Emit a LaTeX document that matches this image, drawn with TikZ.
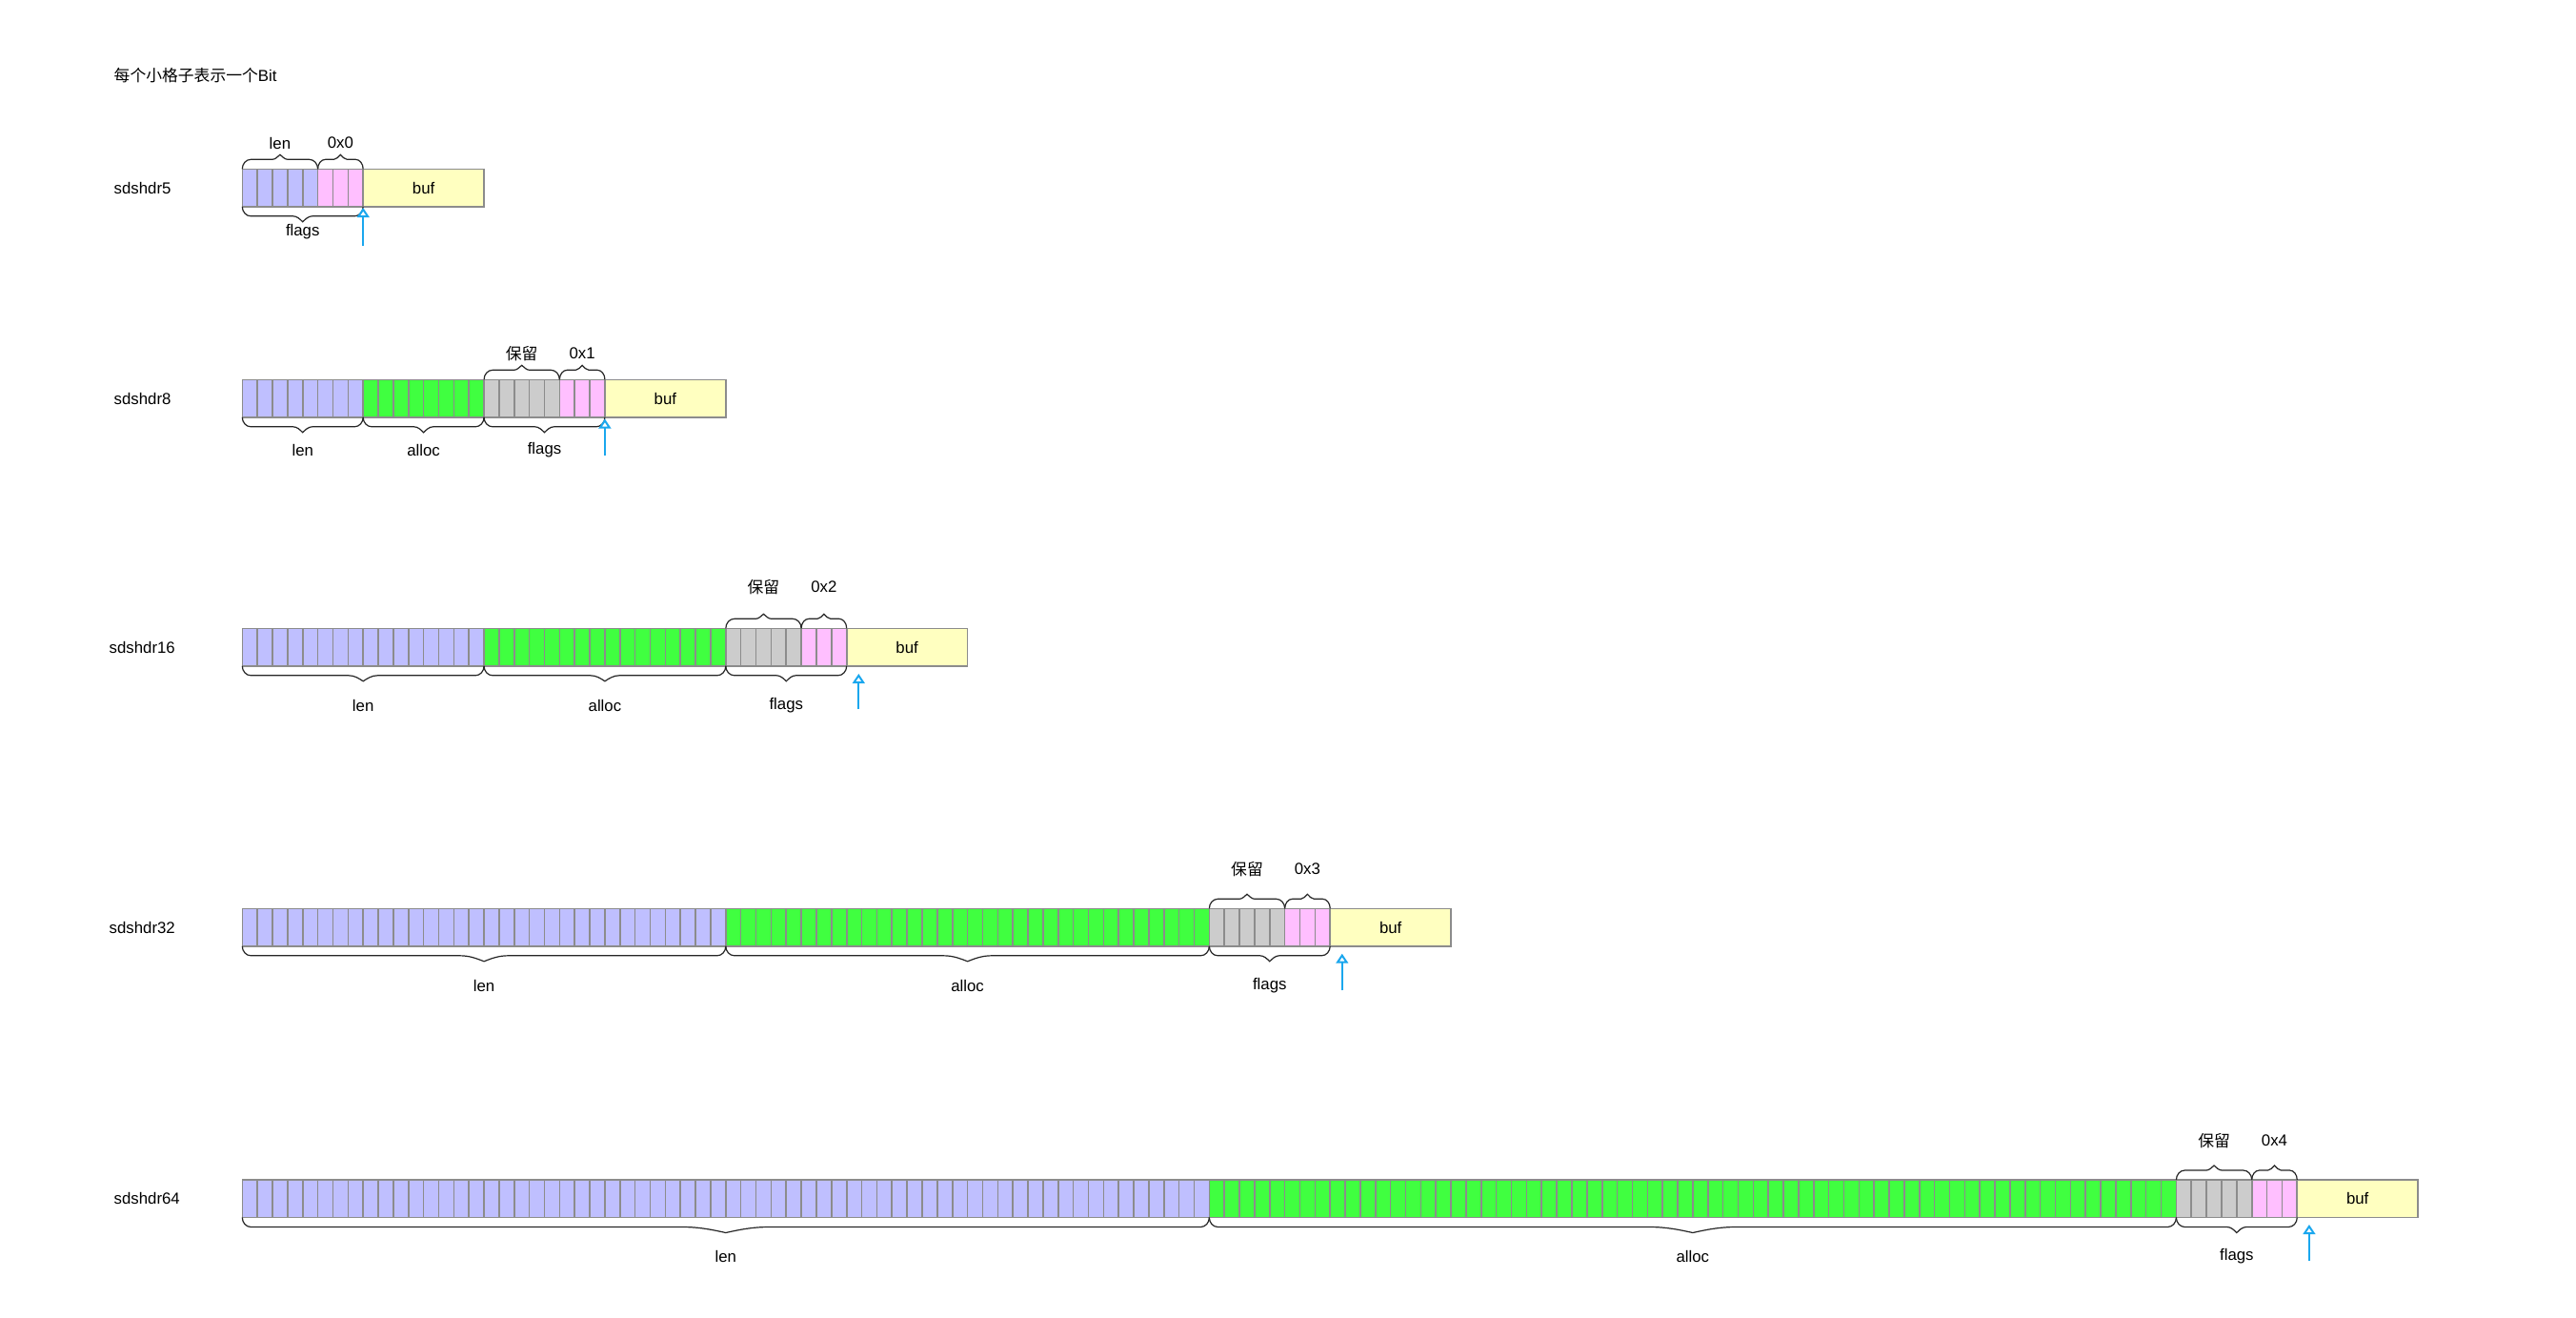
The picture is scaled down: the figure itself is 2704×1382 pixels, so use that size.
\documentclass[tikz,border=0pt]{standalone}
\usepackage{fontspec}
\setmainfont{Liberation Sans}
\newfontfamily\cjk{Noto Sans CJK SC}
\usetikzlibrary{arrows.meta}
\definecolor{cpur}{HTML}{BFBFFF}
\definecolor{cgrn}{HTML}{40FF40}
\definecolor{cgry}{HTML}{CCCCCC}
\definecolor{cpnk}{HTML}{FFBFFF}
\definecolor{cbuf}{HTML}{FFFFC0}
\definecolor{cedge}{HTML}{8C8C8C}
\definecolor{carr}{HTML}{1AA7EE}
\tikzset{
  cellst/.style={draw=cedge, line width=0.8pt},
  bracest/.style={draw=black!85, line width=0.6pt},
  lbl/.style={inner sep=0pt, font=\fontsize{8.4}{10}\selectfont},
  arr/.style={draw=carr, line width=1pt, -{Triangle[open, length=5pt, width=6.4pt]}},
}
% cells from index #1 to #2 (inclusive), top y #3, colour #4
\newcommand\cells[4]{%
  \foreach \i in {#1,...,#2}{%
    \draw[cellst, fill=#4] (\fpeval{254.3+\i*15.86},#3) rectangle (\fpeval{254.3+(\i+1)*15.86},#3+39.5);
  }}
% brace below, cells #1..#2 (boundaries), base y #3
\newcommand\bracedn[3]{%
  \pgfmathsetmacro\xa{254.3+#1*15.86}%
  \pgfmathsetmacro\xb{254.3+#2*15.86}%
  \pgfmathsetmacro\xm{(\xa+\xb)/2}%
  \pgfmathsetmacro\bt{0.04*(\xb-\xa)+5}%
  \pgfmathsetmacro\br{min(9,(\xb-\xa)/6)}%
  \pgfmathsetmacro\ya{#3}%
  \pgfmathsetmacro\yl{#3+10}%
  \pgfmathsetmacro\yt{#3+16}%
  \draw[bracest] (\xa,\ya) .. controls (\xa,\ya+5.5) and (\xa+0.45*\br,\yl) .. (\xa+\br,\yl)
    -- (\xm-\bt,\yl) .. controls (\xm-0.6*\bt,\yl) and (\xm-0.3*\bt,\yl+3) .. (\xm,\yt)
    .. controls (\xm+0.3*\bt,\yl+3) and (\xm+0.6*\bt,\yl) .. (\xm+\bt,\yl)
    -- (\xb-\br,\yl) .. controls (\xb-0.45*\br,\yl) and (\xb,\ya+5.5) .. (\xb,\ya);
}
% brace above
\newcommand\braceup[3]{%
  \pgfmathsetmacro\xa{254.3+#1*15.86}%
  \pgfmathsetmacro\xb{254.3+#2*15.86}%
  \pgfmathsetmacro\xm{(\xa+\xb)/2}%
  \pgfmathsetmacro\bt{0.04*(\xb-\xa)+5}%
  \pgfmathsetmacro\br{min(9,(\xb-\xa)/6)}%
  \pgfmathsetmacro\ya{#3}%
  \pgfmathsetmacro\yl{#3-10}%
  \pgfmathsetmacro\yt{#3-15}%
  \draw[bracest] (\xa,\ya) .. controls (\xa,\ya-5.5) and (\xa+0.45*\br,\yl) .. (\xa+\br,\yl)
    -- (\xm-\bt,\yl) .. controls (\xm-0.6*\bt,\yl) and (\xm-0.3*\bt,\yl-3) .. (\xm,\yt)
    .. controls (\xm+0.3*\bt,\yl-3) and (\xm+0.6*\bt,\yl) .. (\xm+\bt,\yl)
    -- (\xb-\br,\yl) .. controls (\xb-0.45*\br,\yl) and (\xb,\ya-5.5) .. (\xb,\ya);
}
% label centred over cells #1..#2 at y #3
\newcommand\clab[5]{\node[lbl] (#5) at (\fpeval{254.3+(#1+#2)/2*15.86},#3) {#4};}
% buf box: start index #1, top #2, name #3
\newcommand\bufbox[3]{%
  \draw[cellst, fill=cbuf] (\fpeval{254.3+#1*15.86},#2) rectangle (\fpeval{254.3+(#1+8)*15.86},#2+39.5);
  \node[lbl] (#3) at (\fpeval{254.3+(#1+4)*15.86},#2+19.75) {buf};}
\begin{document}
\begin{tikzpicture}[x=0.5pt,y=-0.5pt]
\useasboundingbox (0,0) rectangle (2704,1382);
\fill[white] (0,0) rectangle (2704,1382);

\node[lbl, anchor=west] (title) at (119.3,79.3) {{\cjk 每个小格子表示一个}Bit};

% ---------- sdshdr5 ----------
\node[lbl, anchor=west] (n5) at (119.3,197.1) {sdshdr5};
\cells{0}{4}{177.3}{cpur}
\cells{5}{7}{177.3}{cpnk}
\bufbox{8}{177.3}{buf5}
\braceup{0}{5}{177.3}
\braceup{5}{8}{177.3}
\bracedn{0}{8}{216.8}
\clab{0}{5}{150}{len}{l5len}
\clab{5}{8}{150}{0x0}{l5t}
\clab{0}{8}{243.3}{flags}{l5flags}
\coordinate (a5s) at (381.2,258);
\coordinate (a5e) at (381.2,218);
\draw[arr] (a5s) -- (a5e);

% ---------- sdshdr8 ----------
\node[lbl, anchor=west] (n8) at (119.3,418) {sdshdr8};
\cells{0}{7}{398.3}{cpur}
\cells{8}{15}{398.3}{cgrn}
\cells{16}{20}{398.3}{cgry}
\cells{21}{23}{398.3}{cpnk}
\bufbox{24}{398.3}{buf8}
\braceup{16}{21}{398.3}
\braceup{21}{24}{398.3}
\bracedn{0}{8}{437.8}
\bracedn{8}{16}{437.8}
\bracedn{16}{24}{437.8}
\clab{16}{21}{371}{{\cjk 保留}}{l8res}
\clab{21}{24}{371}{0x1}{l8t}
\clab{0}{8}{472.5}{len}{l8len}
\clab{8}{16}{472.5}{alloc}{l8alloc}
\clab{16}{24}{472.5}{flags}{l8flags}
\coordinate (a8s) at (634.9,478);
\coordinate (a8e) at (634.9,439.5);
\draw[arr] (a8s) -- (a8e);

% ---------- sdshdr16 ----------
\node[lbl, anchor=west] (n16) at (114.3,679) {sdshdr16};
\cells{0}{15}{659.3}{cpur}
\cells{16}{31}{659.3}{cgrn}
\cells{32}{36}{659.3}{cgry}
\cells{37}{39}{659.3}{cpnk}
\bufbox{40}{659.3}{buf16}
\braceup{32}{37}{659.3}
\braceup{37}{40}{659.3}
\bracedn{0}{16}{698.8}
\bracedn{16}{32}{698.8}
\bracedn{32}{40}{698.8}
\clab{32}{37}{616}{{\cjk 保留}}{l16res}
\clab{37}{40}{616}{0x2}{l16t}
\clab{0}{16}{740}{len}{l16len}
\clab{16}{32}{740}{alloc}{l16alloc}
\clab{32}{40}{740}{flags}{l16flags}
\coordinate (a16s) at (901.3,744);
\coordinate (a16e) at (901.3,707);
\draw[arr] (a16s) -- (a16e);

% ---------- sdshdr32 ----------
\node[lbl, anchor=west] (n32) at (114.3,973) {sdshdr32};
\cells{0}{31}{953.3}{cpur}
\cells{32}{63}{953.3}{cgrn}
\cells{64}{68}{953.3}{cgry}
\cells{69}{71}{953.3}{cpnk}
\bufbox{72}{953.3}{buf32}
\braceup{64}{69}{953.3}
\braceup{69}{72}{953.3}
\bracedn{0}{32}{992.8}
\bracedn{32}{64}{992.8}
\bracedn{64}{72}{992.8}
\clab{64}{69}{911.7}{{\cjk 保留}}{l32res}
\clab{69}{72}{911.7}{0x3}{l32t}
\clab{0}{32}{1034}{len}{l32len}
\clab{32}{64}{1034}{alloc}{l32alloc}
\clab{64}{72}{1034}{flags}{l32flags}
\coordinate (a32s) at (1408.8,1039.3);
\coordinate (a32e) at (1408.8,1000.7);
\draw[arr] (a32s) -- (a32e);

% ---------- sdshdr64 ----------
\node[lbl, anchor=west] (n64) at (119.3,1257) {sdshdr64};
\cells{0}{63}{1238}{cpur}
\cells{64}{127}{1238}{cgrn}
\cells{128}{132}{1238}{cgry}
\cells{133}{135}{1238}{cpnk}
\bufbox{136}{1238}{buf64}
\braceup{128}{133}{1238}
\braceup{133}{136}{1238}
\bracedn{0}{64}{1277.5}
\bracedn{64}{128}{1277.5}
\bracedn{128}{136}{1277.5}
\clab{128}{133}{1196.7}{{\cjk 保留}}{l64res}
\clab{133}{136}{1196.7}{0x4}{l64t}
\clab{0}{64}{1318.3}{len}{l64len}
\clab{64}{128}{1318.3}{alloc}{l64alloc}
\clab{128}{136}{1318.3}{flags}{l64flags}
\coordinate (a64s) at (2423.9,1323.3);
\coordinate (a64e) at (2423.9,1285);
\draw[arr] (a64s) -- (a64e);
\end{tikzpicture}
\end{document}
